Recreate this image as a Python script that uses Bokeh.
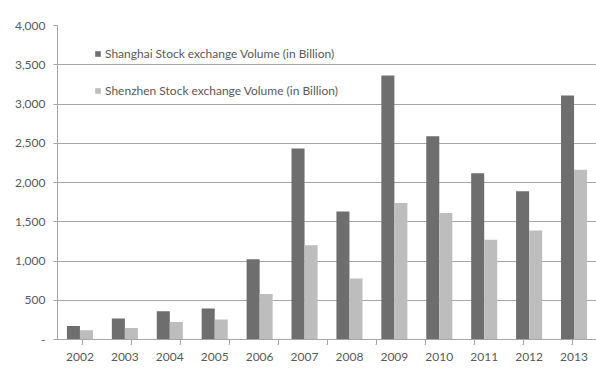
from bokeh.plotting import figure
from bokeh.models import (ColumnDataSource, FactorRange, Range1d, FixedTicker,
                          NumeralTickFormatter, Legend, LegendItem, CategoricalAxis)
from bokeh.transform import dodge
from bokeh.embed import file_html
from bokeh.resources import INLINE

years = ["2002", "2003", "2004", "2005", "2006", "2007", "2008", "2009", "2010", "2011", "2012", "2013"]
shanghai = [173, 267, 360, 394, 1021, 2433, 1632, 3362, 2590, 2119, 1887, 3108]
shenzhen = [118, 148, 224, 254, 580, 1200, 776, 1738, 1610, 1272, 1390, 2162]
series_names = ["Shanghai Stock exchange Volume (in Billion)", "Shenzhen Stock exchange Volume (in Billion)"]
y_ticks = [0, 500, 1000, 1500, 2000, 2500, 3000, 3500, 4000]
boundaries = ["b%d" % i for i in range(len(years) + 1)]

FONT = "Lato"
TXT = "#5a5a5a"
DARK = "#6e6e6e"
LIGHT = "#bdbdbd"
GRID = "#a6a6a6"

src = ColumnDataSource(dict(year=years, sh=shanghai, sz=shenzhen))

p = figure(width=596, height=381, x_range=FactorRange(*years), y_range=Range1d(0, 4000),
           output_backend="svg", toolbar_location=None, x_axis_location=None,
           min_border_left=57, min_border_right=0, min_border_top=25, min_border_bottom=42)
p.outline_line_color = None
p.background_fill_color = "white"
p.border_fill_color = "white"

r1 = p.vbar(x=dodge("year", -0.145, range=p.x_range), top="sh", width=0.29, source=src,
            fill_color=DARK, line_color=None)
r2 = p.vbar(x=dodge("year", 0.145, range=p.x_range), top="sz", width=0.29, source=src,
            fill_color=LIGHT, line_color=None)

# y axis
yax = p.yaxis[0]
yax.ticker = FixedTicker(ticks=y_ticks)
yax.formatter = NumeralTickFormatter(format="0,0")
yax.major_label_overrides = {0: "-"}
yax.axis_line_color = GRID
yax.major_tick_line_color = GRID
yax.major_tick_out = 4
yax.major_tick_in = 0
yax.minor_tick_line_color = None
yax.major_label_standoff = 8
yax.major_label_text_font = FONT
yax.major_label_text_font_size = "12px"
yax.major_label_text_color = TXT

p.ygrid.ticker = FixedTicker(ticks=y_ticks)
p.ygrid.grid_line_color = GRID
p.xgrid.grid_line_color = None

# boundary tick marks axis (categorical range whose factor centres fall on the band edges)
p.extra_x_ranges = {"bounds": FactorRange(*boundaries, range_padding=-1, range_padding_units="absolute")}
tax = CategoricalAxis(x_range_name="bounds")
tax.major_label_overrides = {b: "" for b in boundaries}
tax.major_label_text_font_size = "1px"
tax.major_label_standoff = 0
tax.axis_line_color = GRID
tax.major_tick_line_color = GRID
tax.major_tick_out = 5
tax.major_tick_in = 0
p.add_layout(tax, "below")

# category label axis
cax = CategoricalAxis()
cax.axis_line_color = None
cax.major_tick_line_color = None
cax.major_tick_out = 0
cax.major_tick_in = 0
cax.major_label_standoff = 4
cax.major_label_text_font = FONT
cax.major_label_text_font_size = "12px"
cax.major_label_text_color = TXT
p.add_layout(cax, "below")

legend = Legend(items=[LegendItem(label=series_names[0], renderers=[r1]),
                       LegendItem(label=series_names[1], renderers=[r2])],
                location=(37, 239), orientation="vertical",
                glyph_width=7, glyph_height=7, label_height=20, spacing=17,
                padding=0, margin=0, label_standoff=4,
                label_text_font=FONT, label_text_font_size="12px", label_text_color=TXT,
                border_line_color=None, background_fill_alpha=0)
p.add_layout(legend, "center")

open("out.html", "w").write(file_html(p, INLINE))
